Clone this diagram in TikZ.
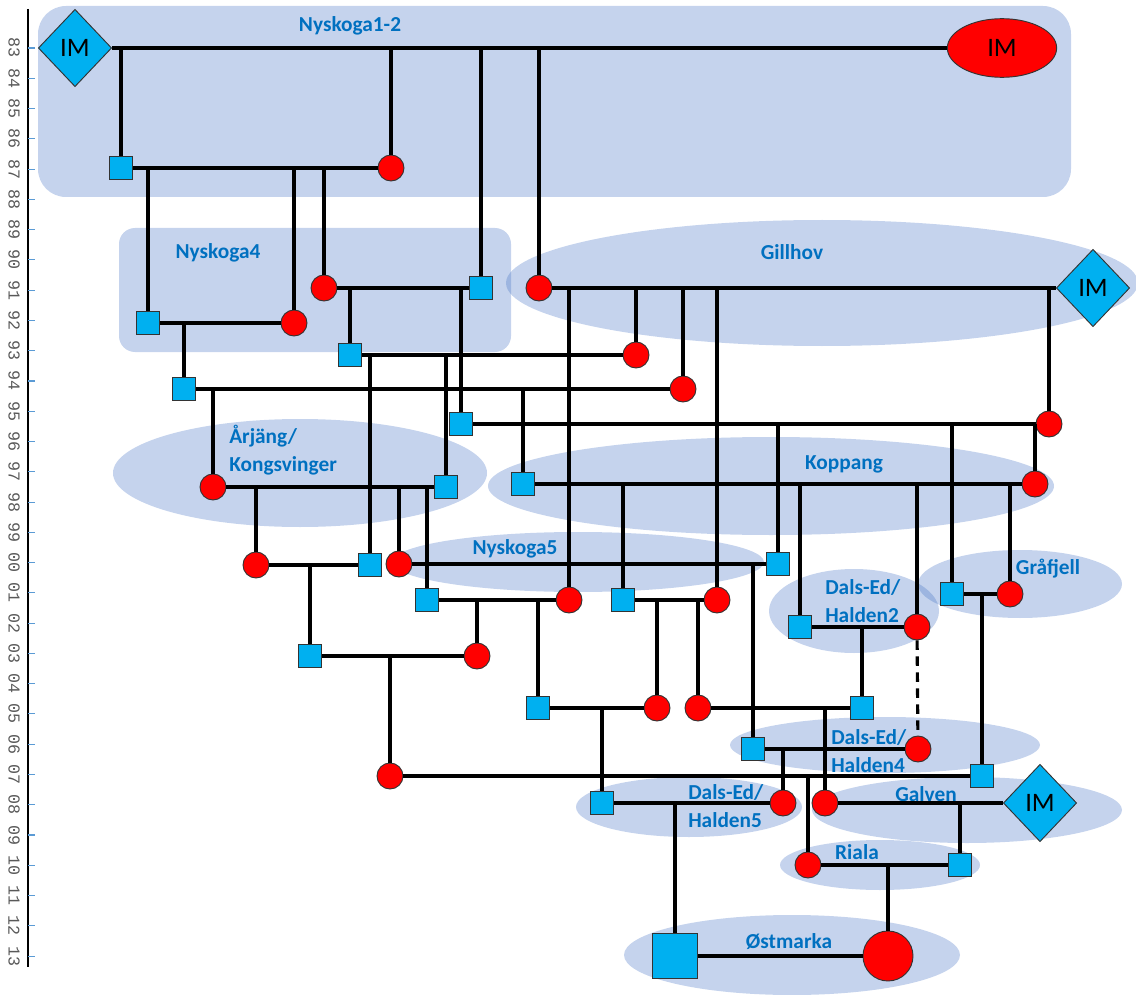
\documentclass[tikz,border=0pt]{standalone}
\usepackage{fontspec}
\setmainfont{Carlito}
\newfontfamily\axisfont{Liberation Mono}
\usetikzlibrary{shapes.geometric}

\definecolor{areablue}{RGB}{68,114,196}
\definecolor{textblue}{RGB}{0,112,192}
\definecolor{sqblue}{RGB}{0,176,240}
\definecolor{tickblue}{RGB}{91,155,213}

\tikzset{
  area/.style={fill=areablue, fill opacity=0.31},
  lbl/.style={text=textblue, font=\fontsize{16}{20.5}\selectfont\bfseries, align=left, inner sep=0pt},
  male/.style={draw=black!80, fill=sqblue, minimum size=17.5pt, inner sep=0pt, line width=0.7pt},
  female/.style={circle, draw=black!80, fill=red, minimum size=19.5pt, inner sep=0pt, line width=0.7pt},
  immale/.style={diamond, draw=black!80, fill=sqblue, minimum width=55pt, minimum height=58pt, inner sep=0pt, line width=0.7pt, font=\fontsize{20}{20}\selectfont},
  imfemale/.style={ellipse, draw=black!80, fill=red, minimum width=82pt, minimum height=44pt, inner sep=0pt, line width=0.7pt, font=\fontsize{20}{20}\selectfont},
  link/.style={line width=2.35pt},
}

\begin{document}
\begin{tikzpicture}[x=0.75pt, y=-0.75pt]
\useasboundingbox (0,0) rectangle (1136,995);

% population areas
\fill[area, rounded corners=21pt] (38,6) rectangle (1071,197);
\fill[area, rounded corners=12pt] (119,228) rectangle (511,352);
\fill[area] (822,283) ellipse [x radius=237pt, y radius=47.25pt];
\fill[area] (300,473) ellipse [x radius=140.25pt, y radius=40.5pt];
\fill[area] (771,486) ellipse [x radius=212.25pt, y radius=36.75pt];
\fill[area] (578,562) ellipse [x radius=139.5pt, y radius=22.5pt];
\fill[area] (854,611) ellipse [x radius=63.75pt, y radius=31.5pt];
\fill[area] (1020,584) ellipse [x radius=76.5pt, y radius=25.5pt];
\fill[area] (885,745) ellipse [x radius=116.25pt, y radius=21pt];
\fill[area] (689,807) ellipse [x radius=84.75pt, y radius=22.5pt];
\fill[area] (967,810) ellipse [x radius=116.25pt, y radius=24.75pt];
\fill[area] (880,865) ellipse [x radius=75pt, y radius=18.75pt];
\fill[area] (792,955) ellipse [x radius=126pt, y radius=30pt];

\node[lbl] (tNy12) at (350,26) {Nyskoga1-2};
\node[lbl] (tNy4) at (218,253) {Nyskoga4};
\node[lbl] (tGill) at (792,252) {Gillhov};
\node[lbl, anchor=west] (tArj) at (229,450) {Årjäng/\\Kongsvinger};
\node[lbl] (tKopp) at (844,464) {Koppang};
\node[lbl] (tNy5) at (515,549) {Nyskoga5};
\node[lbl, anchor=west] (tDH2) at (825,601) {Dals-Ed/\\Halden2};
\node[lbl] (tGraf) at (1048,569) {Gråfjell};
\node[lbl, anchor=west] (tDH4) at (831,751) {Dals-Ed/\\Halden4};
\node[lbl, anchor=west] (tDH5) at (688,806) {Dals-Ed/\\Halden5};
\node[lbl] (tGalv) at (926,794) {Galven};
\node[lbl] (tRial) at (857,852) {Riala};
\node[lbl] (tOst) at (789,942) {Østmarka};

% year axis
\draw[line width=1.5pt] (28,9) -- (28,967);
\foreach \yr [count=\i from 0] in {83,84,85,86,87,88,89,90,91,92,93,94,95,96,97,98,99,00,01,02,03,04,05,06,07,08,09,10,11,12,13} {
  \draw[tickblue, line width=0.8pt] (28,48+30.27*\i) -- (35,48+30.27*\i);
  \node[rotate=-90, text=black!65, font=\axisfont\fontsize{12.5}{12.5}\selectfont] (yr\i) at (14,48+30.27*\i) {\yr};
}

% animals
\node[immale] (imA) at (75,48) {IM};
\node[imfemale] (imB) at (1002,48) {IM};
\node[male] (s87) at (121,168) {};
\node[female] (c87) at (391,168) {};
\node[female] (c91) at (324,288) {};
\node[male] (s91) at (481,288) {};
\node[female] (c91g) at (539,288) {};
\node[immale] (imG) at (1093,288) {IM};
\node[male] (s92) at (148,323) {};
\node[female] (c92) at (294,323) {};
\node[male] (s93) at (350,355) {};
\node[female] (c93) at (636,355) {};
\node[male] (s94) at (184,389) {};
\node[female] (c94) at (683,389) {};
\node[male] (s95) at (461,424) {};
\node[female] (c95) at (1049,424) {};
\node[female] (c97a) at (213,487) {};
\node[male] (s97a) at (446,487) {};
\node[male] (s97k) at (523,484) {};
\node[female] (c97k) at (1035,484) {};
\node[female] (c00a) at (256,565) {};
\node[male] (s00a) at (370,565) {};
\node[female] (c00b) at (399,564) {};
\node[male] (s00b) at (778,564) {};
\node[male] (s01a) at (427,600) {};
\node[female] (c01a) at (569,600) {};
\node[male] (s01b) at (623,600) {};
\node[female] (c01b) at (717,600) {};
\node[male] (s01c) at (952,594) {};
\node[female] (c01c) at (1010,594) {};
\node[male] (s02) at (800,627) {};
\node[female] (c02) at (917,627) {};
\node[male] (s03) at (310,656) {};
\node[female] (c03) at (477,656) {};
\node[male] (s05a) at (538,708) {};
\node[female] (c05a) at (657,708) {};
\node[female] (c05b) at (698,708) {};
\node[male] (s05b) at (862,708) {};
\node[male] (s06) at (753,749) {};
\node[female] (c06) at (918,749) {};
\node[female] (c07) at (390,776) {};
\node[male] (s07) at (982,776) {};
\node[male] (s08) at (602,803) {};
\node[female] (c08a) at (783,803) {};
\node[female] (c08b) at (825,803) {};
\node[immale] (imH) at (1040,803) {IM};
\node[female] (c10) at (808,865) {};
\node[male] (s10) at (960,865) {};
\node[male, minimum size=34pt] (ostM) at (675,956) {};
\node[female, minimum size=37.5pt] (ostF) at (888,956) {};

% pairs
\draw[link] (imA) -- (imB);
\draw[link] (s87) -- (c87);
\draw[link] (c91) -- (s91);
\draw[link] (c91g) -- (imG);
\draw[link] (s92) -- (c92);
\draw[link] (s93) -- (c93);
\draw[link] (s94) -- (c94);
\draw[link] (s95) -- (c95);
\draw[link] (c97a) -- (s97a);
\draw[link] (s97k) -- (c97k);
\draw[link] (c00a) -- (s00a);
\draw[link] (c00b) -- (s00b);
\draw[link] (s01a) -- (c01a);
\draw[link] (s01b) -- (c01b);
\draw[link] (s01c) -- (c01c);
\draw[link] (s02) -- (c02);
\draw[link] (s03) -- (c03);
\draw[link] (s05a) -- (c05a);
\draw[link] (c05b) -- (s05b);
\draw[link] (s06) -- (c06);
\draw[link] (c07) -- (s07);
\draw[link] (s08) -- (c08a);
\draw[link] (c08b) -- (imH);
\draw[link] (c10) -- (s10);
\draw[link] (ostM) -- (ostF);

% offspring
\draw[link] (s87 |- imA) -- (s87);
\draw[link] (c87 |- imA) -- (c87);
\draw[link] (s91 |- imA) -- (s91);
\draw[link] (c91g |- imA) -- (c91g);
\draw[link] (s92 |- s87) -- (s92);
\draw[link] (c92 |- s87) -- (c92);
\draw[link] (c91 |- s87) -- (c91);
\draw[link] (s93 |- c91) -- (s93);
\draw[link] (s95 |- c91) -- (s95);
\draw[link] (c01a |- c91g) -- (c01a);
\draw[link] (c93 |- c91g) -- (c93);
\draw[link] (c94 |- c91g) -- (c94);
\draw[link] (c01b |- c91g) -- (c01b);
\draw[link] (c95 |- c91g) -- (c95);
\draw[link] (s94 |- s92) -- (s94);
\draw[link] (s00a |- s93) -- (s00a);
\draw[link] (s97a |- s93) -- (s97a);
\draw[link] (c97a |- s94) -- (c97a);
\draw[link] (s97k |- s94) -- (s97k);
\draw[link] (s00b |- s95) -- (s00b);
\draw[link] (s01c |- s95) -- (s01c);
\draw[link] (c97k |- s95) -- (c97k);
\draw[link] (c00a |- c97a) -- (c00a);
\draw[link] (c00b |- c97a) -- (c00b);
\draw[link] (s01a |- c97a) -- (s01a);
\draw[link] (s01b |- s97k) -- (s01b);
\draw[link] (s02 |- s97k) -- (s02);
\draw[link] (c02 |- s97k) -- (c02);
\draw[link] (c01c |- s97k) -- (c01c);
\draw[link] (s03 |- c00a) -- (s03);
\draw[link] (s06 |- c00b) -- (s06);
\draw[link] (c03 |- s01a) -- (c03);
\draw[link] (s05a |- s01a) -- (s05a);
\draw[link] (c05a |- s01b) -- (c05a);
\draw[link] (c05b |- s01b) -- (c05b);
\draw[link] (s07 |- s01c) -- (s07);
\draw[link] (s05b |- s02) -- (s05b);
\draw[link, dashed, dash pattern=on 7pt off 5pt] (c02) -- (c06);
\draw[link] (c07 |- s03) -- (c07);
\draw[link] (s08 |- s05a) -- (s08);
\draw[link] (c08b |- c05b) -- (c08b);
\draw[link] (c08a |- s06) -- (c08a);
\draw[link] (c10 |- c07) -- (c10);
\draw[link] (ostM |- s08) -- (ostM);
\draw[link] (s10 |- c08b) -- (s10);
\draw[link] (ostF |- c10) -- (ostF);

\end{tikzpicture}
\end{document}
